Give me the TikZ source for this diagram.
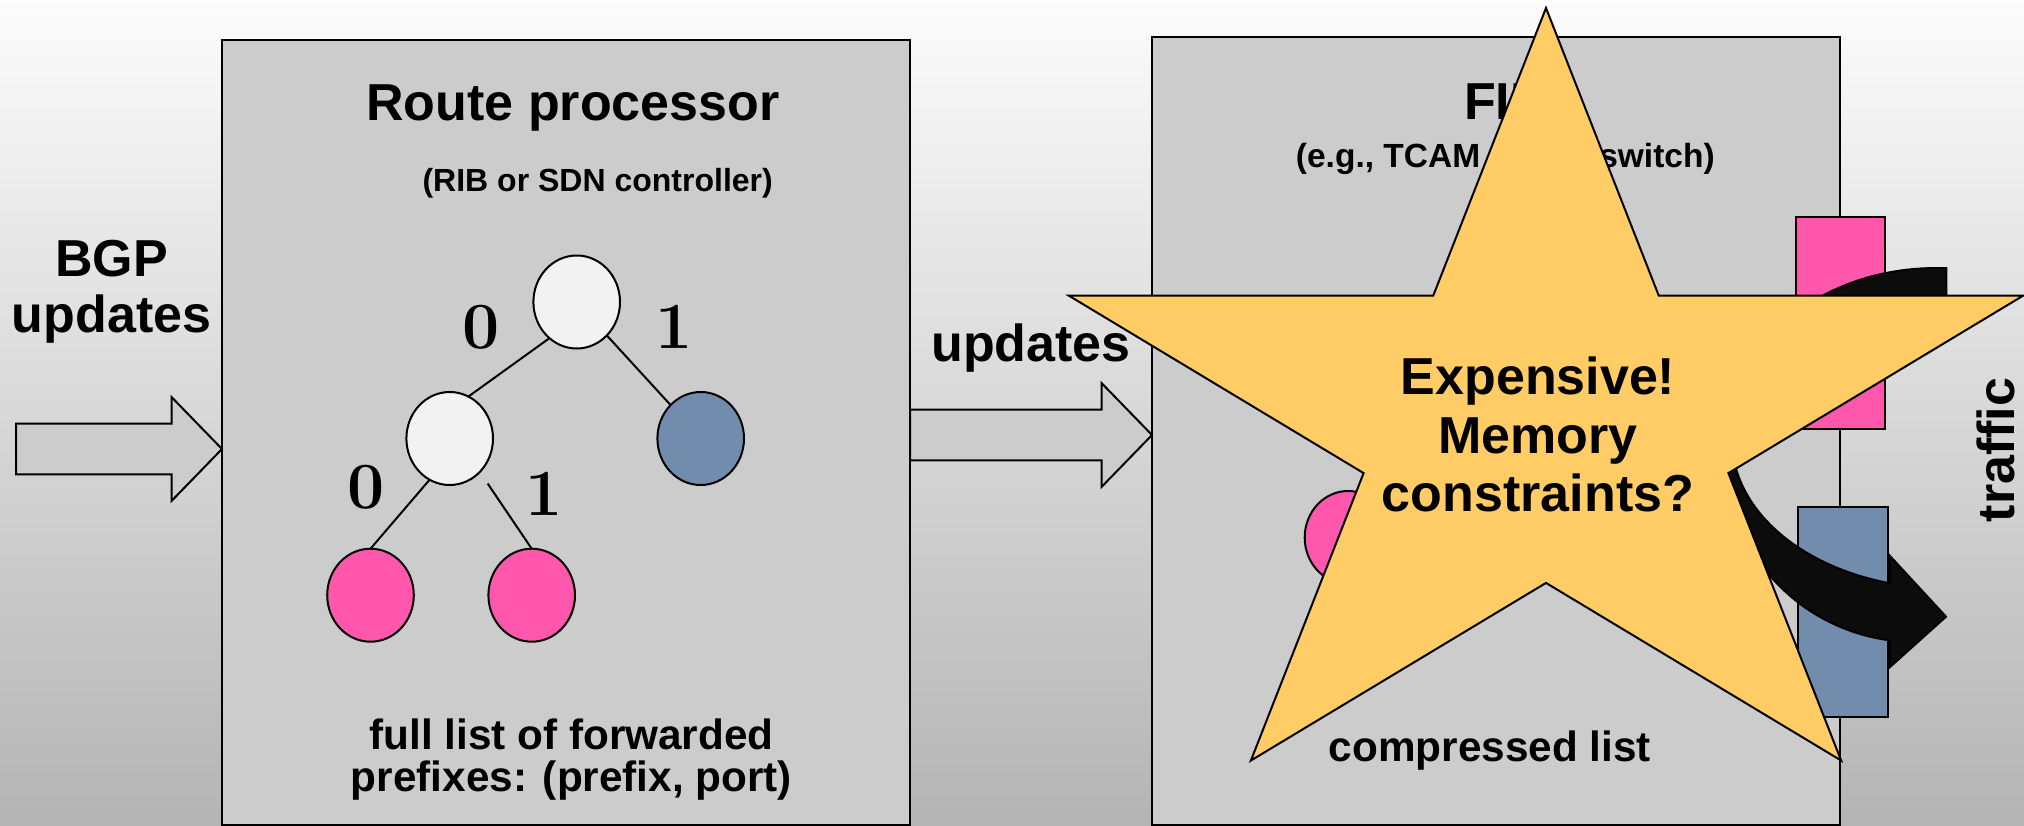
\documentclass[tikz,border=0pt]{standalone}
\usepackage{fontspec}
\newfontfamily\arial{Liberation Sans}
\usetikzlibrary{calc,shapes.geometric}

\definecolor{bgtop}{RGB}{252,252,252}
\definecolor{bgmid}{RGB}{224,224,224}
\definecolor{bgbot}{RGB}{180,180,180}
\definecolor{panelgray}{RGB}{204,204,204}
\definecolor{nodewhite}{RGB}{242,242,242}
\definecolor{portblue}{RGB}{114,140,174}
\definecolor{portpink}{RGB}{255,87,172}
\definecolor{stargold}{RGB}{255,204,102}
\definecolor{inkblack}{RGB}{12,12,12}

% hollow block arrow from a tail point to a tip point on the same height
\newcommand\fatarrow[2]{%
  \draw[blockarrow] ($(#1)+(0,-25.3)$) -- ($(#2)+(-50.5,-25.3)$)
    -- ($(#2)+(-50.5,-52)$) -- (#2) -- ($(#2)+(-50.5,52)$)
    -- ($(#2)+(-50.5,25.3)$) -- ($(#1)+(0,25.3)$) -- cycle;}

\tikzset{
  panel/.style={rectangle, draw=black, line width=1pt, fill=panelgray,
    inner sep=0pt, outer sep=0pt},
  blockarrow/.style={draw=black, line width=1pt, fill=panelgray, line join=miter},
  trie/.style={ellipse, draw=black, line width=1pt, inner sep=0pt, outer sep=0pt,
    minimum width=43.3pt, minimum height=46.5pt},
  edge/.style={draw=black, line width=1pt},
  port/.style={rectangle, draw=black, line width=1pt, inner sep=0pt, outer sep=0pt},
  lbl/.style={inner sep=0pt, outer sep=0pt, text=black},
  bigtext/.style={lbl, font=\arial\bfseries\fontsize{26}{28.15}\selectfont},
  subtext/.style={lbl, font=\arial\bfseries\fontsize{16}{19}\selectfont},
  midtext/.style={lbl, font=\arial\bfseries\fontsize{21.15}{21.2}\selectfont},
  digit/.style={lbl, font=\bfseries\fontsize{33}{33}\selectfont},
  starshape/.style={draw=black, line width=1pt, fill=stargold, line join=miter},
  curvearrow/.style={draw=black, line width=1pt, fill=inkblack, line join=miter}
}

\begin{document}
\begin{tikzpicture}[x=0.5pt, y=-0.5pt]
\useasboundingbox (0,0) rectangle (2024,825);
\shade[top color=bgtop, middle color=bgmid, bottom color=bgbot] (0,0) rectangle (2024,825);

% the two processing stages
\node[panel, anchor=north west, minimum width=344pt, minimum height=392.5pt] (rp) at (222,40) {};
\node[panel, anchor=north west, minimum width=344pt, minimum height=394pt] (fib) at (1152,37) {};

% incoming updates and updates pushed down to the FIB
\coordinate (bgptail) at (16,449);
\coordinate (midline) at (1031,435);
\fatarrow{bgptail}{rp.west |- bgptail}
\fatarrow{rp.east |- midline}{fib.west |- midline}

% labels
\node[bigtext, anchor=base] (rptitle) at (573,120) {Route processor};
\node[subtext, anchor=base] (rpsub) at (597.7,191) {(RIB or SDN controller)};
\node[bigtext, anchor=base, align=center] (bgp) at (111.5,332.6) {BGP\\updates};
\node[bigtext, anchor=base] (upd) at (1031,361) {updates};
\node[midtext, anchor=base, align=center] (fulllist) at (571.5,791.7)
  {full list of forwarded\\prefixes: (prefix, port)};
\node[bigtext, anchor=base] (fibtitle) at (1506,119.3) {FIB};
\node[lbl, font=\arial\bfseries\fontsize{16.75}{19}\selectfont, anchor=base] (fibsub)
  at (1505.3,167) {(e.g., TCAM on the switch)};
\node[midtext, anchor=base] (comp) at (1490,761.7) {compressed list};

% prefix trie
\node[trie, fill=nodewhite] (root) at (576.7,302) {};
\node[trie, fill=nodewhite] (lc) at (449.7,438.5) {};
\node[trie, fill=portblue] (rc) at (700.7,438.5) {};
\node[trie, fill=portpink] (ll) at (370.5,595.2) {};
\node[trie, fill=portpink] (lr) at (531.7,595.2) {};
\draw[edge] (root.233) -- (lc.66);
\draw[edge] (root.-48) -- (rc.132);
\draw[edge] (lc.244) -- (ll.north);
\draw[edge, shorten <=7pt] (lc.-48) -- (lr.north);
\node[digit, anchor=base] (d0) at (481.2,348.5) {0};
\node[digit, anchor=base] (d1) at (673.8,348.5) {1};
\node[digit, anchor=base] (d00) at (366.2,508.5) {0};
\node[digit, anchor=base] (d01) at (544,515) {1};

% compressed table entry
\node[trie, fill=portpink] (fibleaf) at (1348,537.5) {};

% output ports
\node[port, fill=portpink, minimum width=44.65pt, minimum height=106.15pt] (pinkport) at (1840.35,322.85) {};
\node[port, fill=portblue, minimum width=45pt, minimum height=105pt] (blueport) at (1842.7,612) {};

% traffic entering and leaving the switch
\path[curvearrow]
  plot[domain=87:180, samples=40, variable=\t] ({1936+200*cos(\t)}, {425-157*sin(\t)})
  -- plot[domain=180:262.4, samples=40, variable=\t] ({1915+190*cos(\t)}, {455-187*sin(\t)})
  -- (1890,667) -- (1946,616.7) -- (1890,556) -- (1890,583.3)
  -- plot[domain=255.2:180, samples=40, variable=\t] ({1946+214*cos(\t)}, {440-148.5*sin(\t)})
  -- plot[domain=180:90, samples=40, variable=\t] ({1946+214*cos(\t)}, {440-116*sin(\t)})
  -- cycle;

% warning star
\draw[starshape] (1546,8) -- (1658.7,295.5) -- (2023.4,295.5) -- (1728.4,473.1)
  -- (1841.1,760.5) -- (1546,582.9) -- (1250.9,760.5) -- (1363.6,473.1)
  -- (1068.6,295.5) -- (1433.3,295.5) -- cycle;
\node[lbl, font=\arial\bfseries\fontsize{26}{29.2}\selectfont, align=center, anchor=base]
  (warn) at (1538,511.7) {Expensive!\\Memory\\constraints?};

\node[bigtext, rotate=90] (traffic) at (1996,450) {traffic};
\end{tikzpicture}
\end{document}
